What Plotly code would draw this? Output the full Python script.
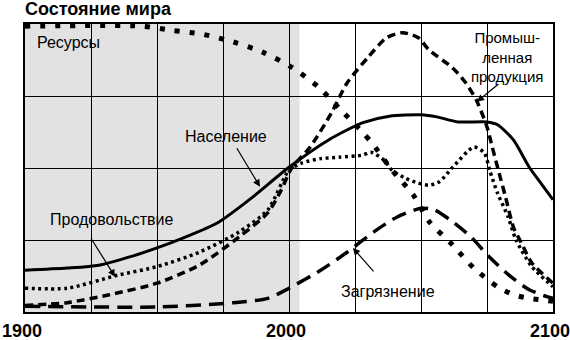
import plotly.graph_objects as go

# ---- data (years, relative values on a 0..4 scale) ----
pop_years = [1900, 1916, 1928, 1941, 1950, 1960, 1973, 1985, 2000, 2015, 2028, 2038, 2050, 2056, 2064, 2075, 2079, 2085, 2091, 2096, 2100]
pop_vals = [0.58, 0.61, 0.65, 0.78, 0.89, 1.03, 1.24, 1.56, 2.01, 2.39, 2.63, 2.72, 2.74, 2.71, 2.64, 2.64, 2.60, 2.39, 2.01, 1.76, 1.56]

res_years = [1900, 1944, 1956, 1967, 1979, 1990, 2001, 2011, 2019, 2028, 2032, 2039, 2047, 2053, 2062, 2070, 2079, 2085, 2091, 2100]
res_vals = [3.97, 3.97, 3.91, 3.86, 3.75, 3.61, 3.40, 3.13, 2.83, 2.49, 2.32, 1.97, 1.63, 1.26, 0.93, 0.61, 0.35, 0.24, 0.19, 0.15]

food_years = [1900, 1916, 1935, 1950, 1966, 1981, 1992, 2000, 2005, 2012, 2019, 2028, 2031, 2036, 2039, 2044, 2049, 2053, 2057, 2062, 2070, 2074, 2076, 2079, 2083, 2086, 2092, 2100]
food_vals = [0.33, 0.33, 0.51, 0.63, 0.83, 1.11, 1.42, 1.97, 2.07, 2.13, 2.15, 2.18, 2.22, 2.11, 1.97, 1.86, 1.79, 1.76, 1.81, 2.01, 2.29, 2.21, 1.97, 1.65, 1.32, 1.00, 0.63, 0.35]

ind_years = [1900, 1916, 1932, 1950, 1966, 1981, 1992, 1997, 2001, 2008, 2016, 2022, 2030, 2037, 2043, 2049, 2053, 2062, 2067, 2071, 2075, 2077, 2079, 2082, 2085, 2088, 2092, 2100]
ind_vals = [0.09, 0.13, 0.24, 0.40, 0.65, 1.04, 1.38, 1.69, 2.00, 2.29, 2.76, 3.18, 3.54, 3.81, 3.88, 3.81, 3.64, 3.39, 3.18, 2.94, 2.57, 2.29, 2.01, 1.60, 1.18, 0.96, 0.68, 0.40]

pol_years = [1900, 1950, 1979, 1992, 2000, 2012, 2022, 2032, 2041, 2050, 2055, 2061, 2069, 2076, 2084, 2091, 2098, 2100]
pol_vals = [0.08, 0.07, 0.13, 0.19, 0.33, 0.58, 0.83, 1.11, 1.32, 1.44, 1.42, 1.28, 1.04, 0.76, 0.49, 0.31, 0.21, 0.19]

tick_years = [1900, 2000, 2100]
tick_text = ["1900", "2000", "2100"]
grid_years = [1925, 1950, 1975, 2025, 2050, 2075]

FONT = "Liberation Sans, Arial, sans-serif"

fig = go.Figure()

def add(xs, ys, dash, width):
    fig.add_trace(go.Scatter(
        x=xs, y=ys, mode="lines",
        line=dict(color="black", width=width, dash=dash, shape="spline", smoothing=0.7),
        hoverinfo="skip", showlegend=False))

add(pol_years, pol_vals, "15px,8px", 3.5)
add(ind_years, ind_vals, "8px,5px", 3.5)
add(food_years, food_vals, "3px,3.5px", 3.5)
add(res_years, res_vals, "5px,10px", 5)
add(pop_years, pop_vals, "solid", 3)

# speckled-grey background on the left part
fig.add_shape(type="rect", xref="x", yref="y", x0=1900, x1=2004, y0=0, y1=4,
              fillcolor="#e2e2e2", line=dict(width=0), layer="below")

def label(text, x, y, size=16):
    fig.add_annotation(x=x, y=y, xref="x", yref="y", text=text, showarrow=False,
                       font=dict(family=FONT, size=size, color="black"),
                       xanchor="center", yanchor="middle")

def arrow(x, y, ax, ay):
    fig.add_annotation(x=x, y=y, xref="x", yref="y", text="", showarrow=True,
                       ax=ax, ay=ay, arrowhead=2, arrowsize=1.2, arrowwidth=1.2,
                       arrowcolor="black", standoff=0, startstandoff=0)

label("Ресурсы", 1916.5, 3.75)
label("Население", 1976.1, 2.44)
label("Продовольствие", 1932.6, 1.28)
label("Загрязнение", 2037.5, 0.29)
label("Промыш-<br>ленная<br>продукция", 2082.6, 3.54, size=15)

arrow(1989.0, 1.74, -24, -40)
arrow(1934.1, 0.49, -25, -40)
arrow(2024.2, 0.89, 22, 25)
arrow(2071.2, 2.92, 23, -19)

fig.update_layout(
    width=570, height=340, autosize=False,
    margin=dict(l=25, r=17, t=24, b=28, pad=0),
    paper_bgcolor="white", plot_bgcolor="white",
    title=dict(text="<b>Состояние мира</b>", x=25/570, xanchor="left", xref="container",
               y=1 - 9/340, yanchor="middle", yref="container",
               font=dict(family=FONT, size=18, color="black")),
    xaxis=dict(range=[1900, 2100], tickvals=tick_years, ticktext=tick_text,
               showgrid=True, gridcolor="black", gridwidth=1,
               minor=dict(tickvals=grid_years, showgrid=True, gridcolor="black", gridwidth=1),
               showline=True, mirror=True, linecolor="black", linewidth=2,
               zeroline=False, ticks="", ticklabelshift=-3, ticklabelstandoff=1,
               ticklabeloverflow="allow", automargin=False,
               tickfont=dict(family=FONT, size=18, color="black", weight="bold")),
    yaxis=dict(range=[0, 4], tick0=0, dtick=1, showticklabels=False,
               showgrid=True, gridcolor="black", gridwidth=1,
               showline=True, mirror=True, linecolor="black", linewidth=2,
               zeroline=False, ticks="", automargin=False),
)

fig.write_html("out.html")
